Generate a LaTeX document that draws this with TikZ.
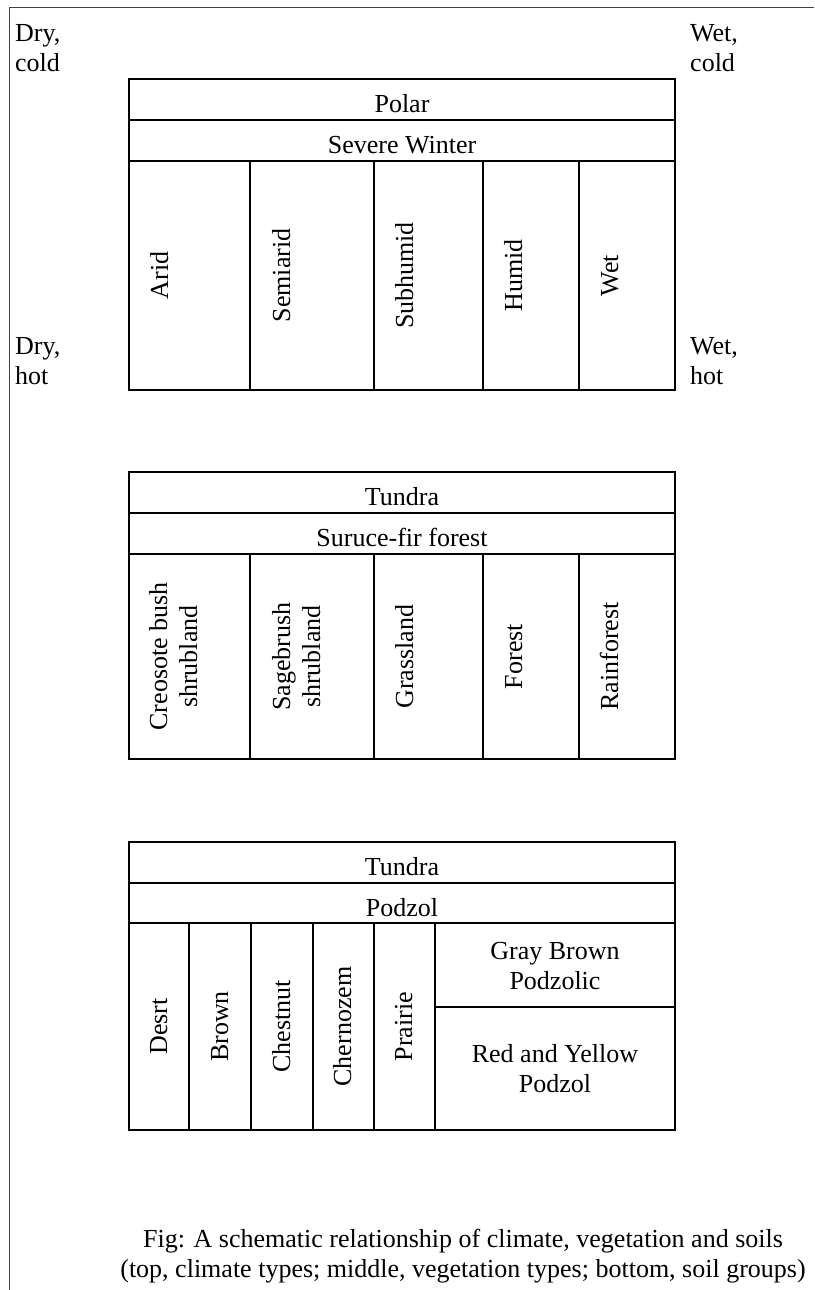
\documentclass[tikz,border=0pt]{standalone}
\usepackage{fontspec}
\setmainfont{Liberation Serif}
\tikzset{
    txt/.style={
        font=\fontsize{26}{30}\selectfont, inner sep=0pt
    },
    headtext/.style={txt, anchor=base},
    vtext/.style={txt, rotate=90, anchor=base, align=center},
    boxtext/.style={txt, anchor=base, align=center},
    cornertext/.style={txt, anchor=base west, align=left},
    captext/.style={txt, anchor=base, align=center},
    tableline/.style={line width=1.3pt, draw=black},
    frameline/.style={line width=0.9pt, draw=black!75}
}

\begin{document}
\begin{tikzpicture}[x=1pt, y=-1pt]
    \useasboundingbox (0,0) rectangle (814,1290);
    \draw[frameline] (9,1290) -- (9,7) -- (814,7);

    \node[cornertext] (drycold) at (15,71) {Dry,\\cold};
    \node[cornertext] (wetcold) at (690,71) {Wet,\\cold};
    \node[cornertext] (dryhot) at (15,384) {Dry,\\hot};
    \node[cornertext] (wethot) at (690,384) {Wet,\\hot};

    % climate
    \draw[tableline] (129,79) rectangle (675,390);
    \draw[tableline] (129,120) -- (675,120) (129,161) -- (675,161);
    \draw[tableline] (250,161) -- (250,390) (374,161) -- (374,390)
        (483,161) -- (483,390) (579,161) -- (579,390);
    \node[headtext] (polar) at (402,112) {Polar};
    \node[headtext] (winter) at (402,153) {Severe Winter};
    \node[vtext] (arid) at (168,275.5) {Arid};
    \node[vtext] (semiarid) at (290,275.5) {Semiarid};
    \node[vtext] (subhumid) at (413,275.5) {Subhumid};
    \node[vtext] (humid) at (522,275.5) {Humid};
    \node[vtext] (wet) at (618,275.5) {Wet};

    % vegetation
    \draw[tableline] (129,472) rectangle (675,759);
    \draw[tableline] (129,513) -- (675,513) (129,554) -- (675,554);
    \draw[tableline] (250,554) -- (250,759) (374,554) -- (374,759)
        (483,554) -- (483,759) (579,554) -- (579,759);
    \node[headtext] (tundra) at (402,505) {Tundra};
    \node[headtext] (spruce) at (402,546) {Suruce-fir forest};
    \node[vtext] (creosote) at (197,656.5) {Creosote bush\\shrubland};
    \node[vtext] (sagebrush) at (320,656.5) {Sagebrush\\shrubland};
    \node[vtext] (grassland) at (413,656.5) {Grassland};
    \node[vtext] (forest) at (522,656.5) {Forest};
    \node[vtext] (rainforest) at (618,656.5) {Rainforest};

    % soils
    \draw[tableline] (129,842) rectangle (675,1130);
    \draw[tableline] (129,883) -- (675,883) (129,923) -- (675,923);
    \draw[tableline] (189,923) -- (189,1130) (251,923) -- (251,1130)
        (313,923) -- (313,1130) (374,923) -- (374,1130)
        (435,923) -- (435,1130) (435,1007) -- (675,1007);
    \node[headtext] (soiltundra) at (402,875) {Tundra};
    \node[headtext] (podzol) at (402,916) {Podzol};
    \node[vtext] (desert) at (167,1026.5) {Desrt};
    \node[vtext] (brown) at (228,1026.5) {Brown};
    \node[vtext] (chestnut) at (290,1026.5) {Chestnut};
    \node[vtext] (chernozem) at (351,1026.5) {Chernozem};
    \node[vtext] (prairie) at (412,1026.5) {Prairie};
    \node[boxtext] (graybrown) at (555,989) {Gray Brown\\Podzolic};
    \node[boxtext] (redyellow) at (555,1092) {Red and Yellow\\Podzol};

    \node[captext] (caption) at (463,1277)
        {Fig: A schematic relationship of climate, vegetation and soils\\(top, climate types; middle, vegetation types; bottom, soil groups)};
\end{tikzpicture}
\end{document}
